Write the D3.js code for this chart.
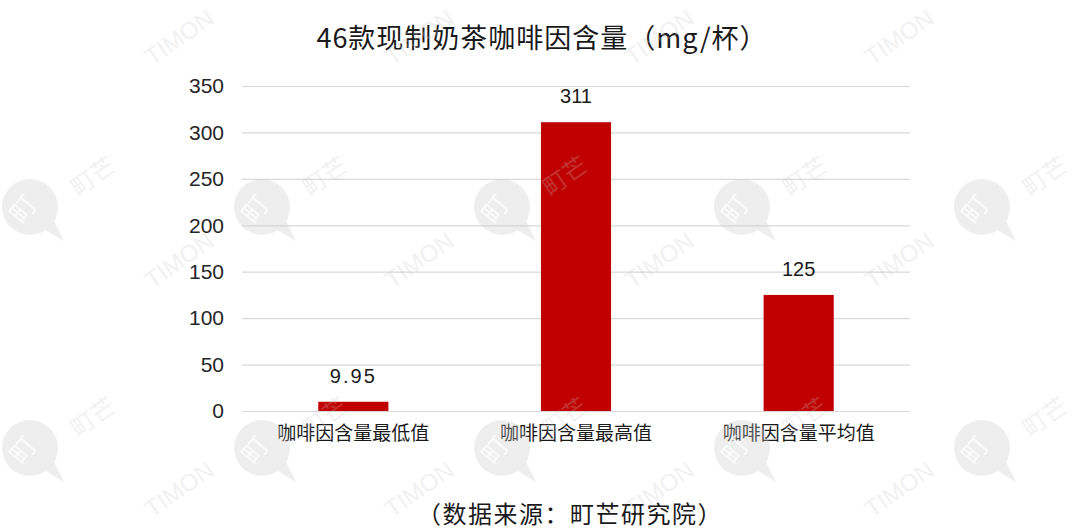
<!DOCTYPE html>
<html>
<head>
<meta charset="utf-8">
<script src="https://cdn.jsdelivr.net/npm/d3@7/dist/d3.min.js"></script>
<style>
  html, body { margin: 0; padding: 0; background: #fff; }
  svg { display: block; }
</style>
</head>
<body>
<svg id="chart" width="1076" height="531"></svg>
<script>
// Caffeine content of 46 freshly made milk teas (mg per cup)
const categories = ["咖啡因含量最低值", "咖啡因含量最高值", "咖啡因含量平均值"];
const values = [9.95, 311, 125];
const valueLabels = ["9.95", "311", "125"];
const yTicks = [0, 50, 100, 150, 200, 250, 300, 350];
const titleText = "46款现制奶茶咖啡因含量（mg/杯）";
const sourceText = "（数据来源：町芒研究院）";

const W = 1076, H = 531;
const svg = d3.select("#chart");
const cjk = "'Noto Sans CJK SC', 'Noto Sans', sans-serif";
const latin = "'Liberation Sans', Arial, sans-serif";

const x = d3.scaleBand()
  .domain(categories)
  .range([242, 910])
  .paddingInner(0.685)
  .paddingOuter(0.3425);

const y = d3.scaleLinear()
  .domain([0, 350])
  .range([411, 86]);

// Title
svg.append("text")
  .attr("x", 542).attr("y", 48)
  .attr("text-anchor", "middle")
  .attr("font-family", cjk)
  .attr("font-size", 27)
  .attr("letter-spacing", 1)
  .attr("fill", "#1a1a1a")
  .text(titleText);

// Horizontal gridlines and y axis labels
const yAxis = d3.axisLeft(y)
  .tickValues(yTicks)
  .tickSize(-(910 - 242))
  .tickPadding(18);

const gy = svg.append("g")
  .attr("transform", "translate(242,0)")
  .call(yAxis);
gy.select(".domain").remove();
gy.selectAll(".tick line")
  .attr("stroke", "#d9d9d9")
  .attr("stroke-width", 1.2);
gy.selectAll(".tick text")
  .attr("font-family", latin)
  .attr("font-size", 21)
  .attr("fill", "#262626");

// Bars
svg.append("g")
  .selectAll("rect")
  .data(values)
  .join("rect")
  .attr("x", (d, i) => x(categories[i]))
  .attr("width", x.bandwidth())
  .attr("y", d => y(d))
  .attr("height", d => y(0) - y(d))
  .attr("fill", "#c00000");

// Value labels above bars
svg.append("g")
  .selectAll("text")
  .data(values)
  .join("text")
  .attr("x", (d, i) => x(categories[i]) + x.bandwidth() / 2)
  .attr("y", d => y(d) - 19)
  .attr("text-anchor", "middle")
  .attr("font-family", latin)
  .attr("font-size", 20)
  .attr("letter-spacing", (d, i) => i === 0 ? 2 : 0)
  .attr("fill", "#1a1a1a")
  .text((d, i) => valueLabels[i]);

// Category axis labels
const xAxis = d3.axisBottom(x).tickSize(0).tickPadding(16);
const gx = svg.append("g")
  .attr("transform", `translate(0,${y(0)})`)
  .call(xAxis);
gx.select(".domain").remove();
gx.selectAll(".tick text")
  .attr("font-family", cjk)
  .attr("font-size", 19)
  .attr("fill", "#1a1a1a");

// Source note
svg.append("text")
  .attr("x", 570).attr("y", 523)
  .attr("text-anchor", "middle")
  .attr("font-family", cjk)
  .attr("font-size", 24)
  .attr("letter-spacing", 1.5)
  .attr("fill", "#1a1a1a")
  .text(sourceText);

// Faint brand watermarks laid over the whole canvas
const wmCols = [30, 262, 502, 742, 982];
const wmRows = [-25, 207, 448];
const timonY = [44, 267, 496];
const wm = svg.append("g").attr("pointer-events", "none");
wmRows.forEach((ry, ri) => {
  wmCols.forEach((cx, ci) => {
    const g = wm.append("g");
    if (ri > 0) {
      const logo = g.append("g").attr("opacity", 0.3);
      logo.append("circle")
        .attr("cx", cx).attr("cy", ry)
        .attr("r", 28)
        .attr("fill", "#c8c8c8");
      logo.append("path")
        .attr("d", `M${cx + 14},${ry + 22} L${cx + 34},${ry + 34} L${cx + 24},${ry + 14} Z`)
        .attr("fill", "#c8c8c8");
      g.append("text")
        .attr("transform", `translate(${cx},${ry + 8}) rotate(-50)`)
        .attr("text-anchor", "middle")
        .attr("font-family", cjk)
        .attr("font-size", 26)
        .attr("fill", "#ffffff")
        .attr("opacity", 0.8)
        .text("町");
      g.append("text")
        .attr("transform", `translate(${cx + 68},${ry - 24}) rotate(-35)`)
        .attr("text-anchor", "middle")
        .attr("font-family", cjk)
        .attr("font-size", 24)
        .attr("fill", "#c8c8c8")
        .attr("opacity", 0.25)
        .text("町芒");
    }
    if (ci > 0) {
      g.append("text")
        .attr("transform", `translate(${cx - 78},${timonY[ri]}) rotate(-35)`)
        .attr("text-anchor", "middle")
        .attr("font-family", latin)
        .attr("font-size", 24)
        .attr("fill", "#c8c8c8")
        .attr("opacity", 0.25)
        .text("TIMON");
    }
  });
});
</script>
</body>
</html>
